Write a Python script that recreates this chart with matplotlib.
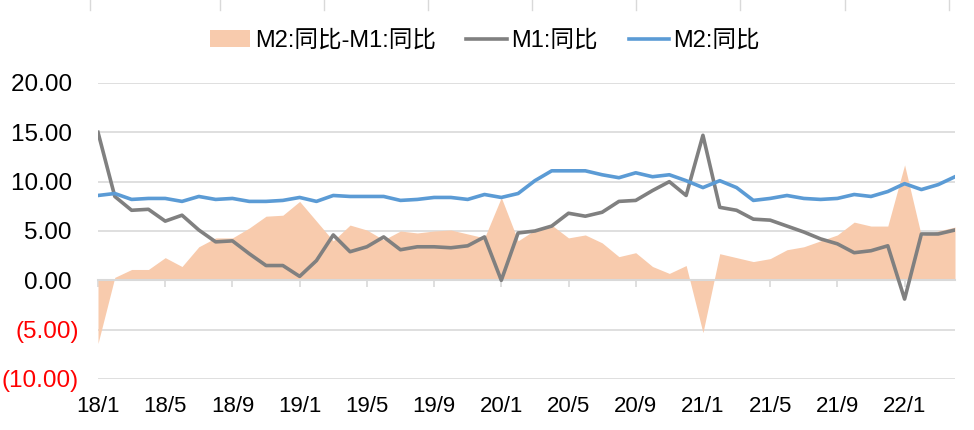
import matplotlib
matplotlib.use("Agg")
import matplotlib.pyplot as plt
import numpy as np
from matplotlib.lines import Line2D
from matplotlib.ticker import FuncFormatter, MultipleLocator

plt.rcParams["font.family"] = ["Liberation Sans", "Noto Sans CJK SC"]

# Monatsdaten 2018/1 - 2022/4
months = [f"{y % 100}/{m}" for y in range(2018, 2023) for m in range(1, 13)][:52]

m1_yoy = [15.0, 8.5, 7.1, 7.2, 6.0, 6.6, 5.1, 3.9, 4.0, 2.7, 1.5, 1.5,
          0.4, 2.0, 4.6, 2.9, 3.4, 4.4, 3.1, 3.4, 3.4, 3.3, 3.5, 4.4,
          0.0, 4.8, 5.0, 5.5, 6.8, 6.5, 6.9, 8.0, 8.1, 9.1, 10.0, 8.6,
          14.7, 7.4, 7.1, 6.2, 6.1, 5.5, 4.9, 4.2, 3.7, 2.8, 3.0, 3.5,
          -1.9, 4.7, 4.7, 5.1]
m2_yoy = [8.6, 8.8, 8.2, 8.3, 8.3, 8.0, 8.5, 8.2, 8.3, 8.0, 8.0, 8.1,
          8.4, 8.0, 8.6, 8.5, 8.5, 8.5, 8.1, 8.2, 8.4, 8.4, 8.2, 8.7,
          8.4, 8.8, 10.1, 11.1, 11.1, 11.1, 10.7, 10.4, 10.9, 10.5, 10.7, 10.1,
          9.4, 10.1, 9.4, 8.1, 8.3, 8.6, 8.3, 8.2, 8.3, 8.7, 8.5, 9.0,
          9.8, 9.2, 9.7, 10.5]

# Reste der Nachbargrafik am oberen Rand (Pixel)
top_marks_px = [90, 220, 324, 428, 532, 636, 740, 845, 949]

m1 = np.array(m1_yoy)
m2 = np.array(m2_yoy)
spread = m2 - m1
x = np.arange(len(months))

fig = plt.figure(figsize=(9.74, 4.30), dpi=100)
ax = fig.add_axes([98 / 974, 1 - 379 / 430, (955 - 98) / 974, (379 - 83) / 430])

ax.fill_between(x, spread, 0, color="#F8CBAD", linewidth=0, zorder=2,
                label="M2:同比-M1:同比")
ax.plot(x, m1, color="#808080", linewidth=2.6, zorder=4, label="M1:同比")
ax.plot(x, m2, color="#5B9BD5", linewidth=2.6, zorder=5, label="M2:同比")

ax.set_xlim(0, len(months) - 1)
ax.set_ylim(-10, 20)
ax.yaxis.set_major_locator(MultipleLocator(5))
ax.grid(axis="y", color="#D9D9D9", linewidth=1.2, zorder=0)
ax.set_axisbelow(True)

for side in ["top", "right", "left"]:
    ax.spines[side].set_visible(False)
ax.spines["bottom"].set_position(("data", 0))
ax.spines["bottom"].set_color("#D9D9D9")
ax.spines["bottom"].set_linewidth(1.5)
ax.spines["bottom"].set_zorder(3)

tick_pos = x[::4]
ax.set_xticks(tick_pos)
ax.tick_params(axis="x", direction="out", length=5, width=1.2, color="#D9D9D9",
               labelbottom=False)

sec = ax.secondary_xaxis(0)
sec.set_xticks(tick_pos)
sec.set_xticklabels([months[i] for i in tick_pos])
sec.tick_params(axis="x", length=0, pad=12, labelsize=16)
sec.spines["bottom"].set_visible(False)


def fmt(v, pos):
    if v < 0:
        return f"({abs(v):.2f})"
    return f"{v:.2f} "


ax.yaxis.set_major_formatter(FuncFormatter(fmt))
ax.tick_params(axis="y", length=0, pad=14, labelsize=17.5)
fig.canvas.draw()
for lab in ax.get_yticklabels():
    if lab.get_text().startswith("("):
        lab.set_color("red")

handles, labels = ax.get_legend_handles_labels()
fig.legend(handles, labels, loc="center", bbox_to_anchor=(0.498, 0.905), ncol=3,
           frameon=False, fontsize=17, handlelength=1.7, handletextpad=0.2,
           columnspacing=1.3)

for px in top_marks_px:
    fig.add_artist(Line2D([px / 974, px / 974], [1.0, 1 - 10 / 430],
                          color="#D9D9D9", linewidth=1))

fig.savefig("out.png", dpi=100)
